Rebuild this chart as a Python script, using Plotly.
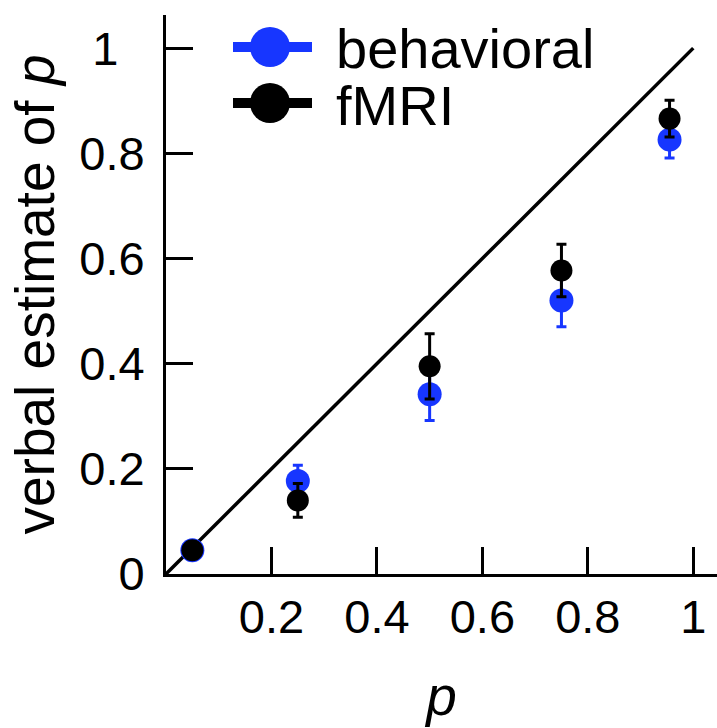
import plotly.graph_objects as go

p_values = [0.05, 0.25, 0.5, 0.75, 0.955]
behavioral = [0.045, 0.177, 0.342, 0.52, 0.826]
behavioral_err = [0.01, 0.03, 0.05, 0.05, 0.035]
fmri = [0.045, 0.14, 0.395, 0.577, 0.866]
fmri_err = [0.01, 0.032, 0.062, 0.05, 0.035]
identity = [0, 1]
y_ticks = [0, 0.2, 0.4, 0.6, 0.8, 1]
y_ticktext = ["0", "0.2", "0.4", "0.6", "0.8", "1\u2007"]
x_ticks = [0.2, 0.4, 0.6, 0.8, 1]
x_ticktext = ["0.2", "0.4", "0.6", "0.8", "1"]
series_names = ["behavioral", "fMRI"]

BLUE = "#1736ff"
FONT = "Liberation Sans, Arial, sans-serif"

fig = go.Figure()
fig.add_trace(go.Scatter(x=identity, y=identity, mode="lines",
                         line=dict(color="black", width=3.5), showlegend=False,
                         hoverinfo="skip"))
fig.add_trace(go.Scatter(x=p_values, y=behavioral, mode="markers", name=series_names[0],
                         marker=dict(color=BLUE, size=24),
                         error_y=dict(type="data", array=behavioral_err, color=BLUE,
                                      thickness=3, width=5),
                         showlegend=False))
fig.add_trace(go.Scatter(x=p_values, y=fmri, mode="markers", name=series_names[1],
                         marker=dict(color="black", size=22),
                         error_y=dict(type="data", array=fmri_err, color="black",
                                      thickness=3, width=5),
                         showlegend=False))

# plot area: x 166..717, y 15..574 (pixels)
L, T, B = 166, 15, 574
W = 717 - L
H = B - T

def px_x(px):
    return (px - L) / float(W)

def px_y(py):
    return (B - py) / float(H)

shapes = []
annotations = []
for name, color, cy in [(series_names[0], BLUE, 47), (series_names[1], "black", 103)]:
    shapes.append(dict(type="line", xref="paper", yref="paper",
                       x0=px_x(233), x1=px_x(312), y0=px_y(cy), y1=px_y(cy),
                       line=dict(color=color, width=10)))
    shapes.append(dict(type="circle", xref="paper", yref="paper",
                       xsizemode="pixel", ysizemode="pixel",
                       xanchor=px_x(270), yanchor=px_y(cy),
                       x0=-20, x1=20, y0=-20, y1=20,
                       fillcolor=color, line=dict(width=0)))
    annotations.append(dict(text=name, xref="paper", yref="paper",
                            x=px_x(334), y=px_y(cy + 2), xanchor="left", yanchor="middle",
                            showarrow=False, font=dict(size=56, color="black", family=FONT)))

fig.update_layout(
    width=717, height=728,
    margin=dict(l=L, r=0, t=T, b=728 - B),
    paper_bgcolor="white", plot_bgcolor="white",
    font=dict(family=FONT, color="black"),
    shapes=shapes, annotations=annotations,
    showlegend=False,
)
fig.update_xaxes(range=[0, 1.045], tickvals=x_ticks, ticktext=x_ticktext,
                 ticks="inside", ticklen=27, tickwidth=3, tickcolor="black",
                 showline=True, linewidth=3, linecolor="black",
                 showgrid=False, zeroline=False, automargin=False,
                 tickfont=dict(size=47, family=FONT), ticklabelstandoff=0,
                 title=dict(text="<i>p</i>", font=dict(size=55, family=FONT), standoff=35))
fig.update_yaxes(range=[0, 1.063], tickvals=y_ticks, ticktext=y_ticktext,
                 ticks="inside", ticklen=27, tickwidth=3, tickcolor="black",
                 showline=True, linewidth=3, linecolor="black",
                 showgrid=False, zeroline=False, automargin=False,
                 tickfont=dict(size=47, family=FONT), ticklabelstandoff=9,
                 title=dict(text="verbal estimate of <i>p</i>",
                            font=dict(size=55, family=FONT), standoff=8))

fig.write_html("out.html", config={"displayModeBar": False},
               post_script="document.body.style.margin='0';document.body.style.overflow='hidden';")
